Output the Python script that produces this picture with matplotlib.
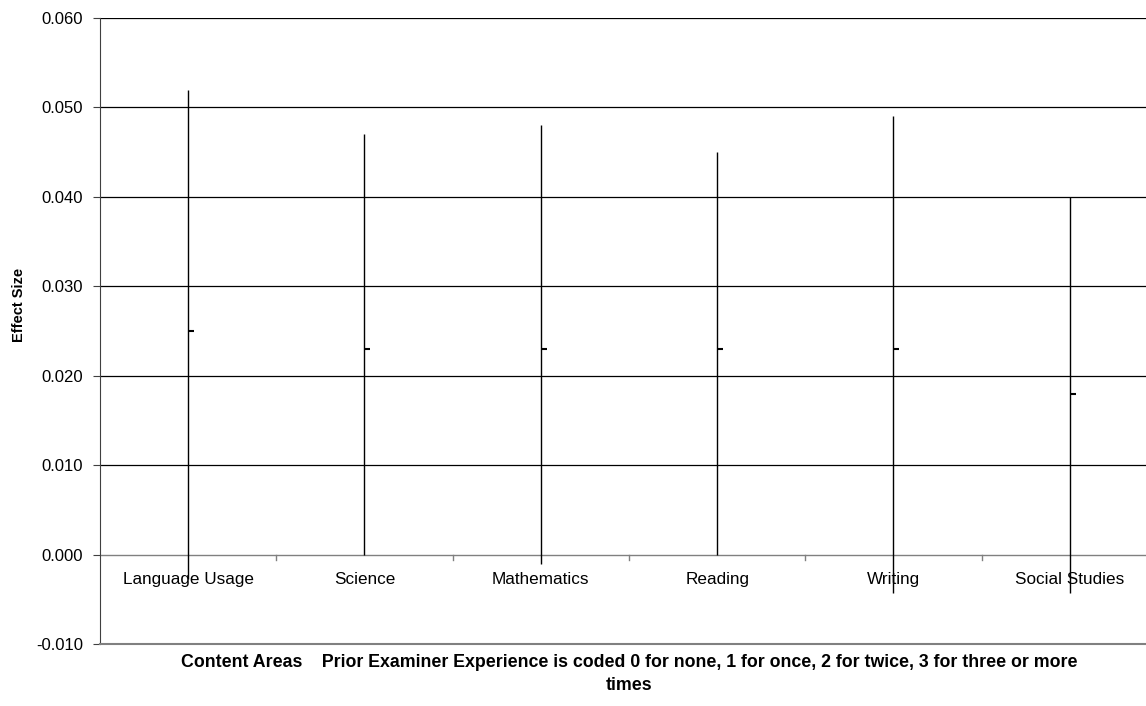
import numpy as np
import matplotlib.pyplot as plt
from matplotlib.lines import TICKRIGHT

plt.rcParams['font.family'] = ['Liberation Sans', 'DejaVu Sans']

# Effect size per content area: high, low and point estimate
areas = ["Language Usage", "Science", "Mathematics", "Reading", "Writing", "Social Studies"]
high = [0.052, 0.047, 0.048, 0.045, 0.049, 0.040]
low = [-0.0027, 0.000, -0.001, 0.000, -0.0043, -0.0043]
estimate = [0.025, 0.023, 0.023, 0.023, 0.023, 0.018]

fig = plt.figure(figsize=(11.46, 7.06), dpi=100)
ax = fig.add_axes([100 / 1146, 62 / 706, 1058 / 1146, 626 / 706])

x = np.arange(len(areas)) + 0.5

yt = np.arange(-0.010, 0.0601, 0.010)
ax.set_ylim(-0.010, 0.060)
ax.set_xlim(0, len(areas))
ax.set_yticks(yt)
ax.set_yticklabels([f"{v:.3f}" for v in yt], fontsize=12)

# horizontal gridlines (skip zero, the category axis sits there)
for v in yt[2:]:
    ax.axhline(v, color='black', lw=0.9, zorder=1)

# category axis crossing at zero with dividers between areas
ax.axhline(0, color='#808080', lw=1.0, zorder=1)
for b in range(1, len(areas)):
    ax.plot([b, b], [0, -0.0006], color='#808080', lw=1.0, zorder=1, clip_on=False)
for xi, name in zip(x, areas):
    ax.text(xi, -0.0019, name, ha='center', va='top', fontsize=12.3)

# high-low lines with estimate tick
ax.vlines(x, low, high, color='black', lw=1.0, zorder=3)
ax.plot(x, estimate, linestyle='none', marker=TICKRIGHT, markersize=4,
        markeredgewidth=1.5, color='black', zorder=4)

ax.set_xticks([])
for side in ['top', 'right']:
    ax.spines[side].set_visible(False)
ax.spines['left'].set_color('#404040')
ax.spines['bottom'].set_color('#808080')
ax.spines['bottom'].set_linewidth(1.5)
ax.tick_params(axis='y', direction='out', length=5, color='#404040', pad=7)

ax.set_ylabel("Effect Size", fontsize=10.5, fontweight='bold', va='center')
ax.yaxis.set_label_coords(-81 / 1058, (644 - 305) / 626)
fig.text(629 / 1146, 1 - 654 / 706,
         "Content Areas    Prior Examiner Experience is coded 0 for none, 1 for once, 2 for twice, 3 for three or more\ntimes",
         ha='center', va='top', fontsize=12.8, fontweight='bold', linespacing=1.45)

fig.savefig("out.png", dpi=100)
